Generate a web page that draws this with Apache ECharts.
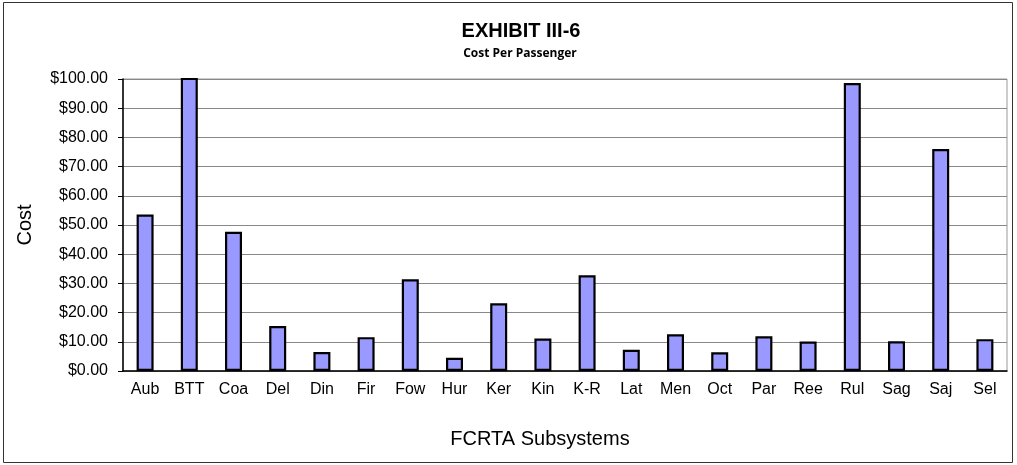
<!DOCTYPE html>
<html>
<head>
<meta charset="utf-8">
<script src="https://cdn.jsdelivr.net/npm/echarts@6/dist/echarts.min.js"></script>
<style>
  html, body { margin: 0; padding: 0; background: #fff; }
  #chart-container { width: 1017px; height: 465px; }
</style>
</head>
<body>
<div id="chart-container"></div>
<script>
// subsystems and cost per passenger, read from the exhibit
var subsystems = ['Aub', 'BTT', 'Coa', 'Del', 'Din', 'Fir', 'Fow', 'Hur', 'Ker', 'Kin',
    'K-R', 'Lat', 'Men', 'Oct', 'Par', 'Ree', 'Rul', 'Sag', 'Saj', 'Sel'];
var costPerPassenger = [53.6, 112, 47.7, 15.4, 6.5, 11.6, 31.4, 4.5, 23.2, 11.1,
    32.8, 7.3, 12.6, 6.4, 11.9, 10.1, 98.6, 10.2, 76.0, 10.9];

var chartDom = document.getElementById('chart-container');
var costChart = echarts.init(chartDom);

var option = {
    backgroundColor: '#fff',
    animation: false,
    title: [
        {
            text: 'EXHIBIT III-6',
            left: 516,
            top: 16,
            textAlign: 'center',
            textStyle: {
                fontFamily: 'Liberation Sans',
                fontWeight: 'bold',
                fontSize: 20,
                color: '#000'
            }
        },
        {
            text: 'Cost Per Passenger',
            left: 515,
            top: 43,
            textAlign: 'center',
            textStyle: {
                fontFamily: 'Open Sans',
                fontWeight: 'bold',
                fontSize: 12,
                color: '#000'
            }
        }
    ],
    graphic: [
        {
            type: 'rect', // outer frame of the chart area
            shape: { x: 3.5, y: 2.5, width: 1009, height: 460 },
            style: { fill: 'none', stroke: '#333', lineWidth: 1 },
            silent: true
        }
    ],
    grid: {
        left: 123,
        right: 10,
        top: 79,
        bottom: 94,
        show: true,
        borderColor: '#999',
        borderWidth: 1
    },
    xAxis: {
        type: 'category',
        data: subsystems,
        name: 'FCRTA Subsystems',
        nameLocation: 'middle',
        nameGap: 58,
        nameTextStyle: {
            fontFamily: 'Liberation Sans',
            fontSize: 20,
            color: '#000',
            padding: [0, 50, 0, 0]
        },
        axisLine: { lineStyle: { color: '#000', width: 1.5 } },
        axisTick: { show: false },
        axisLabel: {
            margin: 11,
            fontFamily: 'Liberation Sans',
            fontSize: 16,
            color: '#000'
        }
    },
    yAxis: {
        type: 'value',
        min: 0,
        max: 100,
        interval: 10,
        name: 'Cost',
        nameLocation: 'middle',
        nameRotate: 90,
        nameGap: 88,
        nameTextStyle: {
            fontFamily: 'Liberation Sans',
            fontSize: 20,
            color: '#000'
        },
        axisLine: { show: true, lineStyle: { color: '#000', width: 1.5 } },
        axisTick: { show: true, length: 5, lineStyle: { color: '#000' } },
        axisLabel: {
            margin: 15,
            fontFamily: 'Liberation Sans',
            fontSize: 16,
            color: '#000',
            formatter: function (v) { return '$' + v.toFixed(2); }
        },
        splitLine: { lineStyle: { color: '#888', width: 1 } }
    },
    series: [
        {
            name: 'Cost Per Passenger',
            type: 'bar',
            data: costPerPassenger,
            barWidth: 17,
            clip: true,
            itemStyle: {
                color: '#9999ff',
                borderColor: '#000',
                borderWidth: 2.2
            }
        }
    ]
};

costChart.setOption(option);
window.addEventListener('resize', costChart.resize);
</script>
</body>
</html>
